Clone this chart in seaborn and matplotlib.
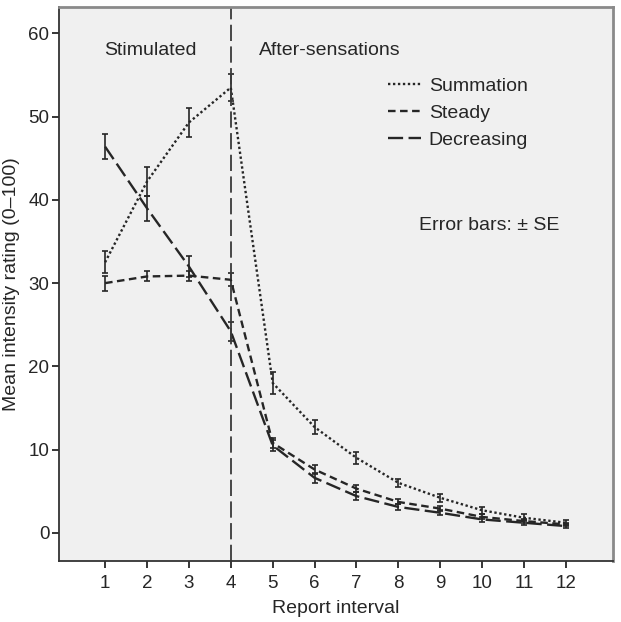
"""
Mean intensity ratings per report interval for three stimulation patterns,
with +/- SE error bars and a marker at the end of stimulation.
"""

import matplotlib

matplotlib.use("Agg")
import matplotlib.pyplot as plt
import pandas as pd
import seaborn as sns
from matplotlib.lines import Line2D

# --- Data ---
intervals = [1, 2, 3, 4, 5, 6, 7, 8, 9, 10, 11, 12]
summation = [32.5, 42.2, 49.3, 53.5, 18.0, 12.7, 9.0, 6.0, 4.2, 2.7, 1.8, 1.2]
summation_se = [1.3, 1.7, 1.7, 1.6, 1.3, 0.8, 0.7, 0.5, 0.5, 0.4, 0.4, 0.3]
steady = [30.0, 30.8, 30.9, 30.4, 10.8, 7.6, 5.3, 3.7, 2.9, 1.9, 1.4, 1.0]
steady_se = [0.9, 0.6, 0.6, 0.8, 0.6, 0.5, 0.4, 0.3, 0.3, 0.3, 0.2, 0.2]
decreasing = [46.4, 39.0, 32.0, 24.2, 10.5, 6.6, 4.4, 3.1, 2.4, 1.6, 1.2, 0.8]
decreasing_se = [1.5, 1.5, 1.3, 1.1, 0.7, 0.6, 0.5, 0.4, 0.3, 0.3, 0.3, 0.2]

series_names = ["Summation", "Steady", "Decreasing"]
y_ticks = [0, 10, 20, 30, 40, 50, 60]

DASHES = {"Summation": (1.0, 1.1), "Steady": (3.2, 1.9), "Decreasing": (6.4, 2.3)}
INK = "#262626"
FS = 14

df = pd.DataFrame(
    {
        "interval": intervals * 3,
        "rating": summation + steady + decreasing,
        "se": summation_se + steady_se + decreasing_se,
        "pattern": sum([[n] * len(intervals) for n in series_names], []),
    }
)

sns.set_style("white")
plt.rcParams["font.family"] = ["Liberation Sans", "DejaVu Sans"]

fig = plt.figure(figsize=(6.21, 6.22), dpi=100)
ax = fig.add_axes((0.095, 0.098, 0.892, 0.891))
ax.set_facecolor("#f0f0f0")

sns.lineplot(
    data=df,
    x="interval",
    y="rating",
    style="pattern",
    dashes=DASHES,
    color=INK,
    linewidth=1.7,
    ax=ax,
    legend=False,
    errorbar=None,
)

# error bars: +/- SE
for name in series_names:
    sub = df[df["pattern"] == name]
    ax.errorbar(
        sub["interval"],
        sub["rating"],
        yerr=sub["se"],
        fmt="none",
        ecolor=INK,
        elinewidth=1.2,
        capsize=2,
        capthick=1.2,
    )

# end of stimulation
ax.axvline(4, color="#3a3a3a", linewidth=1.3, linestyle=(0, (9, 3)))

ax.set_xlim(-0.1, 13.12)
ax.set_ylim(-3.4, 63.2)
ax.set_xticks(intervals)
ax.set_yticks(y_ticks)
ax.tick_params(axis="both", direction="out", length=5, width=1.3, color=INK,
               labelsize=13.5, labelcolor=INK, left=True, bottom=True)
ax.tick_params(axis="x", pad=5)
ax.tick_params(axis="y", pad=2)

ax.set_xlabel("Report interval", fontsize=FS, color=INK, labelpad=6)
ax.set_ylabel("Mean intensity rating (0–100)", fontsize=FS, color=INK, labelpad=6)

for side in ["left", "bottom"]:
    ax.spines[side].set_color("#333333")
    ax.spines[side].set_linewidth(1.3)
for side in ["top", "right"]:
    ax.spines[side].set_color("#8a8a8a")
    ax.spines[side].set_linewidth(2.0)

ax.text(0.97, 58.0, "Stimulated", fontsize=FS, color=INK, va="center")
ax.text(4.67, 58.0, "After-sensations", fontsize=FS, color=INK, va="center")
ax.text(8.5, 36.9, "Error bars: ± SE", fontsize=FS, color=INK, va="center")

handles = [
    Line2D([0], [0], color=INK, linewidth=1.7, dashes=DASHES[n]) for n in series_names
]
ax.legend(
    handles,
    series_names,
    loc="upper left",
    bbox_to_anchor=(0.562, 0.904),
    frameon=False,
    fontsize=FS,
    handlelength=1.7,
    handletextpad=0.4,
    labelspacing=0.48,
    labelcolor=INK,
)

fig.savefig("out.png", dpi=100, facecolor="white")
